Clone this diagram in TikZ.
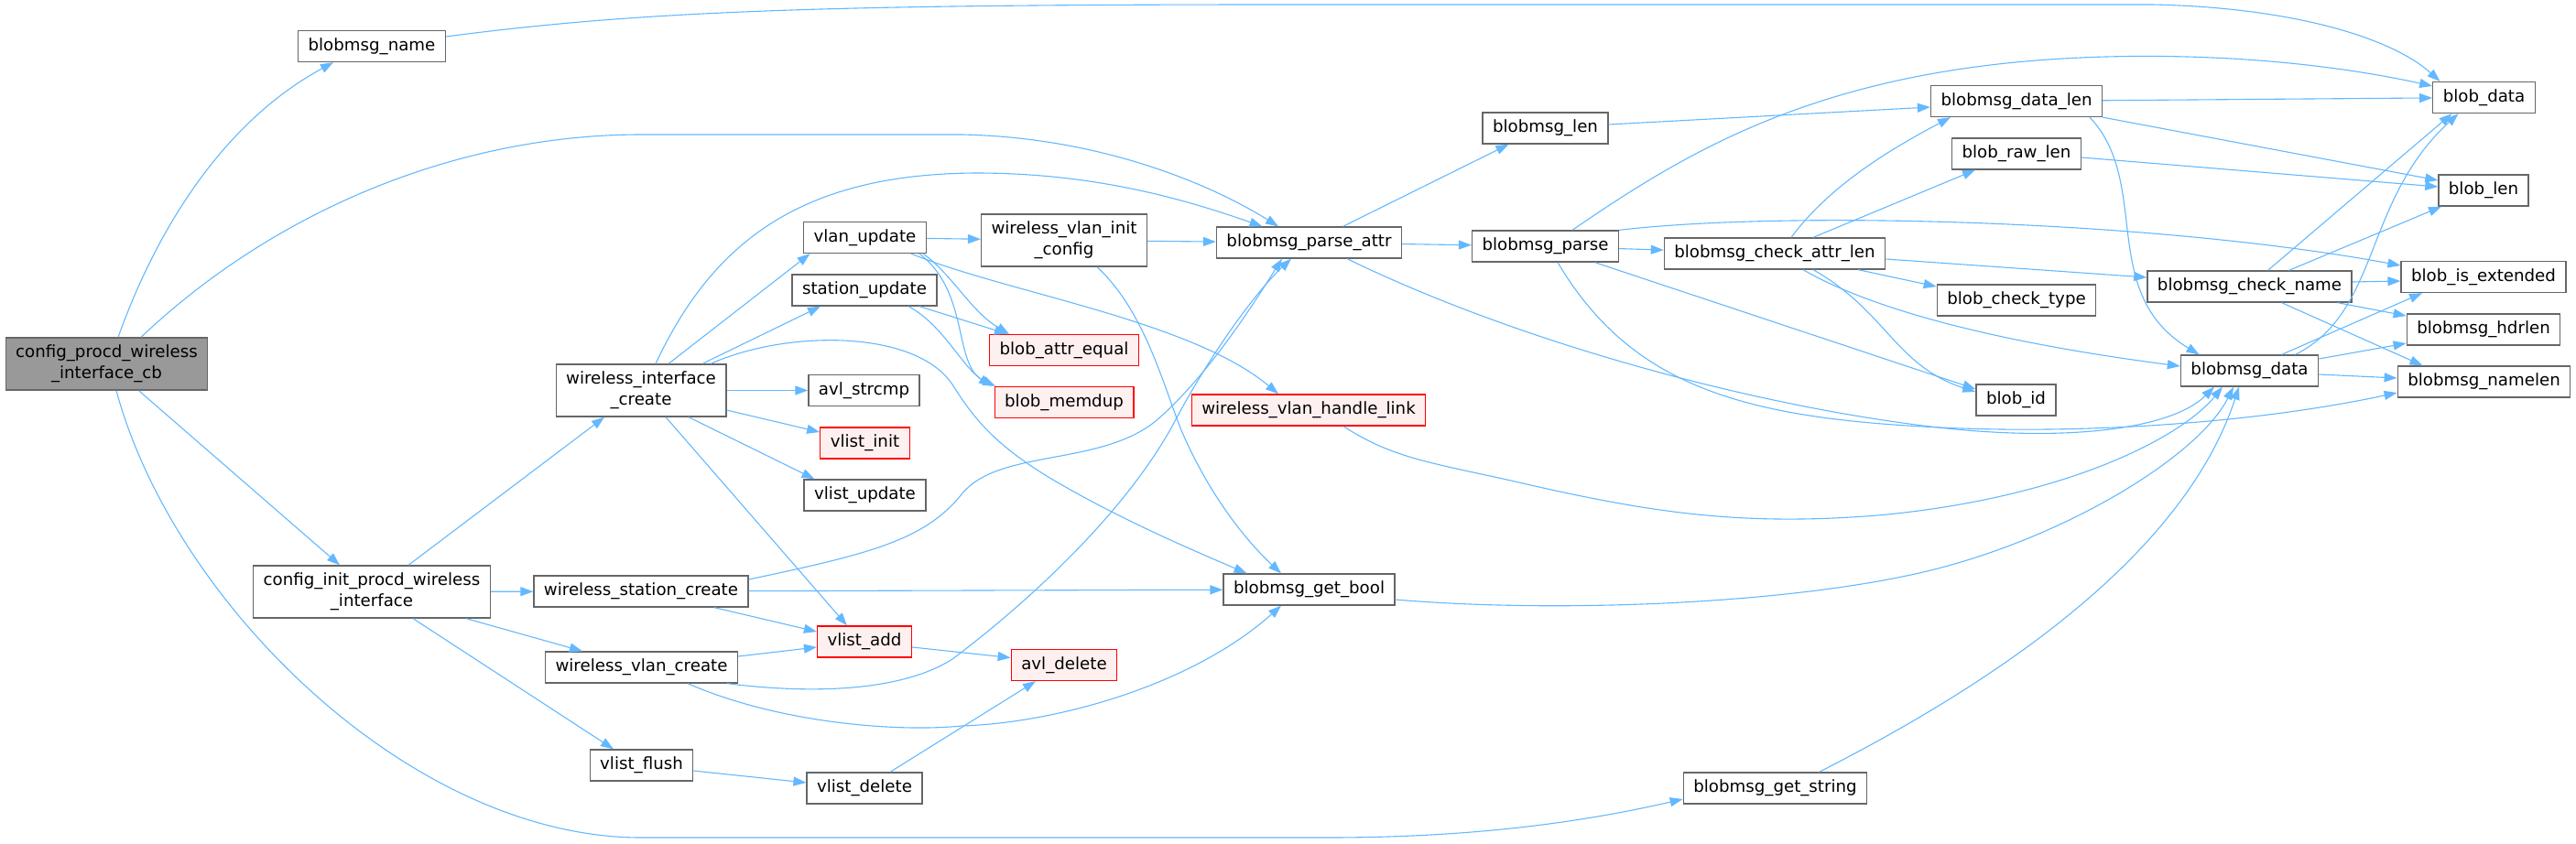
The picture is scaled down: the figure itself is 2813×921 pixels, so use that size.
\documentclass[tikz,border=0pt]{standalone}
\usepackage{fontspec}
\setmainfont{DejaVu Sans}
\usetikzlibrary{arrows.meta}
\definecolor{edgeBlue}{HTML}{63B8FF}
\definecolor{boxGray}{HTML}{666666}
\definecolor{rootGray}{HTML}{999999}
\definecolor{redFill}{HTML}{FFF0F0}
\newcommand{\graphfont}{\fontsize{18.2}{23}\selectfont}

\begin{document}
\begin{tikzpicture}[x=1pt, y=-1pt,
  box/.style={draw=boxGray, fill=white, line width=1.3pt, inner xsep=11pt,
              inner ysep=2pt, font=\graphfont},
  fn/.style={box, minimum height=34pt, text height=13.5pt, text depth=4.5pt},
  fntwo/.style={box, align=center, minimum height=57pt},
  fnred/.style={fn, draw=red, fill=redFill},
  fnroot/.style={fntwo, fill=rootGray},
  call/.style={-{Stealth[length=14pt, width=10pt, inset=0pt]}, edgeBlue,
               line width=1.1pt}]
  \useasboundingbox (0,0) rectangle (2813,921);

  \node[fnroot] (cb) at (116.5,397.5) {config\_procd\_wireless\\\_interface\_cb};
  \node[fn] (name) at (406,50.5) {blobmsg\_name};
  \node[fntwo] (init) at (406,646.5) {config\_init\_procd\_wireless\\\_interface};
  \node[fntwo] (wic) at (700,426.5) {wireless\_interface\\\_create};
  \node[fn] (wsc) at (700,646) {wireless\_station\_create};
  \node[fn] (wvc) at (700.5,729) {wireless\_vlan\_create};
  \node[fn] (vflush) at (700.5,836) {vlist\_flush};
  \node[fn] (vlanupd) at (944.5,259.5) {vlan\_update};
  \node[fn] (staupd) at (944,317) {station\_update};
  \node[fn] (strcmp) at (943.5,426.5) {avl\_strcmp};
  \node[fnred] (vinit) at (944.5,484) {vlist\_init};
  \node[fn] (vupd) at (944.5,541) {vlist\_update};
  \node[fnred] (vadd) at (944,701) {vlist\_add};
  \node[fn] (vdel) at (944,861) {vlist\_delete};
  \node[fntwo] (wvic) at (1162,262.5) {wireless\_vlan\_init\\\_config};
  \node[fnred] (attreq) at (1162,382.5) {blob\_attr\_equal};
  \node[fnred] (memdup) at (1162,439.5) {blob\_memdup};
  \node[fnred] (avldel) at (1162,726.5) {avl\_delete};
  \node[fn] (pattr) at (1429.5,265) {blobmsg\_parse\_attr};
  \node[fnred] (vlink) at (1429,448) {wireless\_vlan\_handle\_link};
  \node[fn] (getbool) at (1429.5,644) {blobmsg\_get\_bool};
  \node[fn] (bmlen) at (1687.5,140) {blobmsg\_len};
  \node[fn] (parse) at (1687.5,269) {blobmsg\_parse};
  \node[fn] (chklen) at (1938,277) {blobmsg\_check\_attr\_len};
  \node[fn] (getstr) at (1938.5,861) {blobmsg\_get\_string};
  \node[fn] (datalen) at (2202,110.5) {blobmsg\_data\_len};
  \node[fn] (rawlen) at (2202,168) {blob\_raw\_len};
  \node[fn] (chktype) at (2202,328) {blob\_check\_type};
  \node[fn] (blobid) at (2201.5,437) {blob\_id};
  \node[fn] (chkname) at (2456.5,313) {blobmsg\_check\_name};
  \node[fn] (bmdata) at (2456.5,405) {blobmsg\_data};
  \node[fn] (bdata) at (2712.5,106.5) {blob\_data};
  \node[fn] (blen) at (2712,208) {blob\_len};
  \node[fn] (isext) at (2712,302.5) {blob\_is\_extended};
  \node[fn] (hdrlen) at (2712,360) {blobmsg\_hdrlen};
  \node[fn] (namelen) at (2712.5,417) {blobmsg\_namelen};

  % root callback
  \draw[call] ([xshift=12.5pt]cb.north) .. controls (175,240) and (250,130) .. ([xshift=-42pt]name.south);
  \draw[call] ([xshift=37.5pt]cb.north) .. controls (300,230) and (500,147) .. (700,147) -- (1050,147)
    .. controls (1200,150) and (1320,200) .. ([xshift=-33.5pt]pattr.north);
  \draw[call] ([xshift=35pt]cb.south) -- ([xshift=-35pt]init.north);
  \draw[call] ([xshift=10.5pt]cb.south) .. controls (190,660) and (450,915) .. (700,915) -- (1450,915)
    .. controls (1600,915) and (1720,900) .. ([yshift=-12pt]getstr.west);
  \draw[call] ([yshift=10.5pt]name.east) .. controls (700,12) and (900,5) .. (1400,5) -- (2350,5)
    .. controls (2500,8) and (2610,40) .. ([xshift=-48pt]bdata.north);

  % config init
  \draw[call] ([xshift=40pt]init.north) -- ([xshift=-40pt]wic.south);
  \draw[call] (init) -- (wsc);
  \draw[call] ([xshift=103pt]init.south) -- ([xshift=-64.5pt]wvc.north);
  \draw[call] ([xshift=45pt]init.south) -- ([xshift=-30.5pt]vflush.north);

  % interface create
  \draw[call] ([xshift=16pt]wic.north) .. controls (780,260) and (880,190) .. (1066,189)
    .. controls (1200,189) and (1300,220) .. ([xshift=-51pt]pattr.north);
  \draw[call] ([xshift=30pt]wic.north) -- ([xshift=-60pt]vlanupd.south);
  \draw[call] ([xshift=67pt]wic.north) -- ([xshift=-48pt]staupd.south);
  \draw[call] ([xshift=76pt]wic.north) .. controls (860,360) and (1000,360) .. (1040,420)
    .. controls (1065,460) and (1090,490) .. (1160,530)
    .. controls (1230,570) and (1300,600) .. ([xshift=-68pt]getbool.north);
  \draw[call] (wic) -- (strcmp);
  \draw[call] ([yshift=-21.5pt]wic.east) -- ([yshift=12pt]vinit.west);
  \draw[call] ([xshift=52pt]wic.south) -- ([xshift=-55pt]vupd.north);
  \draw[call] ([xshift=27pt]wic.south) -- ([xshift=-19pt]vadd.north);

  \draw[call] (vlanupd) -- (wvic);
  \draw[call] ([xshift=63.5pt]vlanupd.south) .. controls (1040,300) and (1060,340) .. ([xshift=-60pt]attreq.north);
  \draw[call] ([xshift=59.5pt]vlanupd.south) .. controls (1060,320) and (1040,400) .. ([xshift=-75pt]memdup.north);
  \draw[call] ([xshift=50.5pt]vlanupd.south) .. controls (1100,320) and (1300,350) .. ([xshift=-33pt]vlink.north);
  \draw[call] ([xshift=60pt]staupd.south) -- ([xshift=-62pt]attreq.north);
  \draw[call] ([xshift=48pt]staupd.south) .. controls (1030,355) and (1050,400) .. ([xshift=-79pt]memdup.north);

  \draw[call] (wvic) -- (pattr);
  \draw[call] ([xshift=36pt]wvic.south) .. controls (1250,340) and (1270,420) .. (1290,470)
    .. controls (1320,540) and (1360,590) .. ([xshift=-30.5pt]getbool.north);

  % station / vlan create
  \draw[call] ([yshift=13pt]wsc.east) .. controls (950,605) and (1010,590) .. (1050,540)
    .. controls (1090,490) and (1200,510) .. (1262,460)
    .. controls (1320,410) and (1370,330) .. ([xshift=-29.5pt]pattr.south);
  \draw[call] (wsc) -- (getbool);
  \draw[call] ([xshift=80pt]wsc.south) -- ([yshift=11pt]vadd.west);
  \draw[call] ([xshift=93.5pt]wvc.south) .. controls (900,760) and (990,752) .. (1040,720)
    .. controls (1120,660) and (1230,560) .. (1283,460)
    .. controls (1320,390) and (1370,320) .. ([xshift=-19.5pt]pattr.south);
  \draw[call] ([yshift=12pt]wvc.east) -- ([yshift=-6pt]vadd.west);
  \draw[call] ([xshift=50.5pt]wvc.south) .. controls (850,790) and (980,800) .. (1050,793)
    .. controls (1150,790) and (1300,750) .. ([xshift=-30.5pt]getbool.south);

  \draw[call] ([yshift=-6pt]vadd.east) -- ([yshift=8pt]avldel.west);
  \draw[call] ([yshift=-6pt]vflush.east) -- ([yshift=6pt]vdel.west);
  \draw[call] ([xshift=28pt]vdel.north) -- ([xshift=-31pt]avldel.south);

  % into blobmsg_data from below
  \draw[call] ([xshift=38pt]vlink.south) .. controls (1520,500) and (1560,505) .. (1650,525)
    .. controls (1800,560) and (1900,575) .. (2050,563)
    .. controls (2250,545) and (2380,480) .. ([xshift=-29.5pt]bmdata.south);
  \draw[call] ([yshift=-11pt]getbool.east) .. controls (1700,670) and (1950,660) .. (2100,625)
    .. controls (2250,590) and (2400,500) .. ([xshift=-17.5pt]bmdata.south);
  \draw[call] ([xshift=48pt]getstr.north) .. controls (2150,760) and (2380,620) .. ([xshift=-11.5pt]bmdata.south);

  % parse attr / parse
  \draw[call] ([xshift=37pt]pattr.north) -- ([xshift=-40pt]bmlen.south);
  \draw[call] (pattr) -- (parse);
  \draw[call] ([xshift=41.5pt]pattr.south) .. controls (1650,370) and (1900,440) .. (2100,465)
    .. controls (2250,484) and (2370,470) .. ([xshift=-38.5pt]bmdata.south);
  \draw[call] ([xshift=13.5pt]parse.south) .. controls (1780,420) and (1900,455) .. (2100,466)
    .. controls (2250,475) and (2450,465) .. ([yshift=-12pt]namelen.west);
  \draw[call] ([xshift=29.5pt]parse.north) .. controls (1850,160) and (2000,70) .. (2300,62)
    .. controls (2450,58) and (2570,75) .. ([yshift=12.5pt]bdata.west);
  \draw[call] (parse.north east) .. controls (1950,230) and (2350,240) .. ([yshift=12.5pt]isext.west);
  \draw[call] (parse) -- (chklen);
  \draw[call] ([xshift=54pt]parse.south) -- ([yshift=12pt]blobid.west);
  \draw[call] ([yshift=4pt]bmlen.east) -- ([yshift=-6.5pt]datalen.west);

  % check attr len
  \draw[call] ([xshift=18pt]chklen.north) .. controls (2000,200) and (2070,160) .. ([xshift=-72pt]datalen.south);
  \draw[call] ([xshift=42pt]chklen.north) -- ([xshift=-45pt]rawlen.south);
  \draw[call] ([yshift=-6pt]chklen.east) -- ([yshift=10pt]chkname.west);
  \draw[call] ([xshift=91pt]chklen.south) -- ([yshift=15pt]chktype.west);
  \draw[call] ([xshift=31pt]chklen.south) .. controls (2030,330) and (2150,370) .. ([yshift=5pt]bmdata.west);
  \draw[call] ([xshift=42pt]chklen.south) .. controls (2060,340) and (2070,400) .. ([yshift=9pt]blobid.west);

  \draw[call] (datalen) -- (bdata);
  \draw[call] (datalen.south east) -- ([yshift=11pt]blen.west);
  \draw[call] ([xshift=80pt]datalen.south) .. controls (2350,200) and (2290,320) .. ([xshift=-55pt]bmdata.north);
  \draw[call] ([yshift=-4pt]rawlen.east) -- ([yshift=4pt]blen.west);

  \draw[call] ([xshift=20pt]chkname.north) -- ([xshift=-35pt]bdata.south);
  \draw[call] ([xshift=43pt]chkname.north) -- ([xshift=-46pt]blen.south);
  \draw[call] ([yshift=5pt]chkname.east) -- ([yshift=-4.5pt]isext.west);
  \draw[call] ([xshift=96pt]chkname.south) -- ([yshift=15pt]hdrlen.west);
  \draw[call] ([xshift=35pt]chkname.south) -- ([xshift=-67pt]namelen.north);

  \draw[call] ([xshift=50pt]bmdata.north) .. controls (2600,340) and (2580,220) .. ([xshift=-28pt]bdata.south);
  \draw[call] ([xshift=35pt]bmdata.north) -- ([xshift=-67pt]isext.south);
  \draw[call] ([yshift=13pt]bmdata.east) -- ([yshift=-15pt]hdrlen.west);
  \draw[call] ([yshift=-4pt]bmdata.east) -- ([yshift=4pt]namelen.west);
\end{tikzpicture}
\end{document}
